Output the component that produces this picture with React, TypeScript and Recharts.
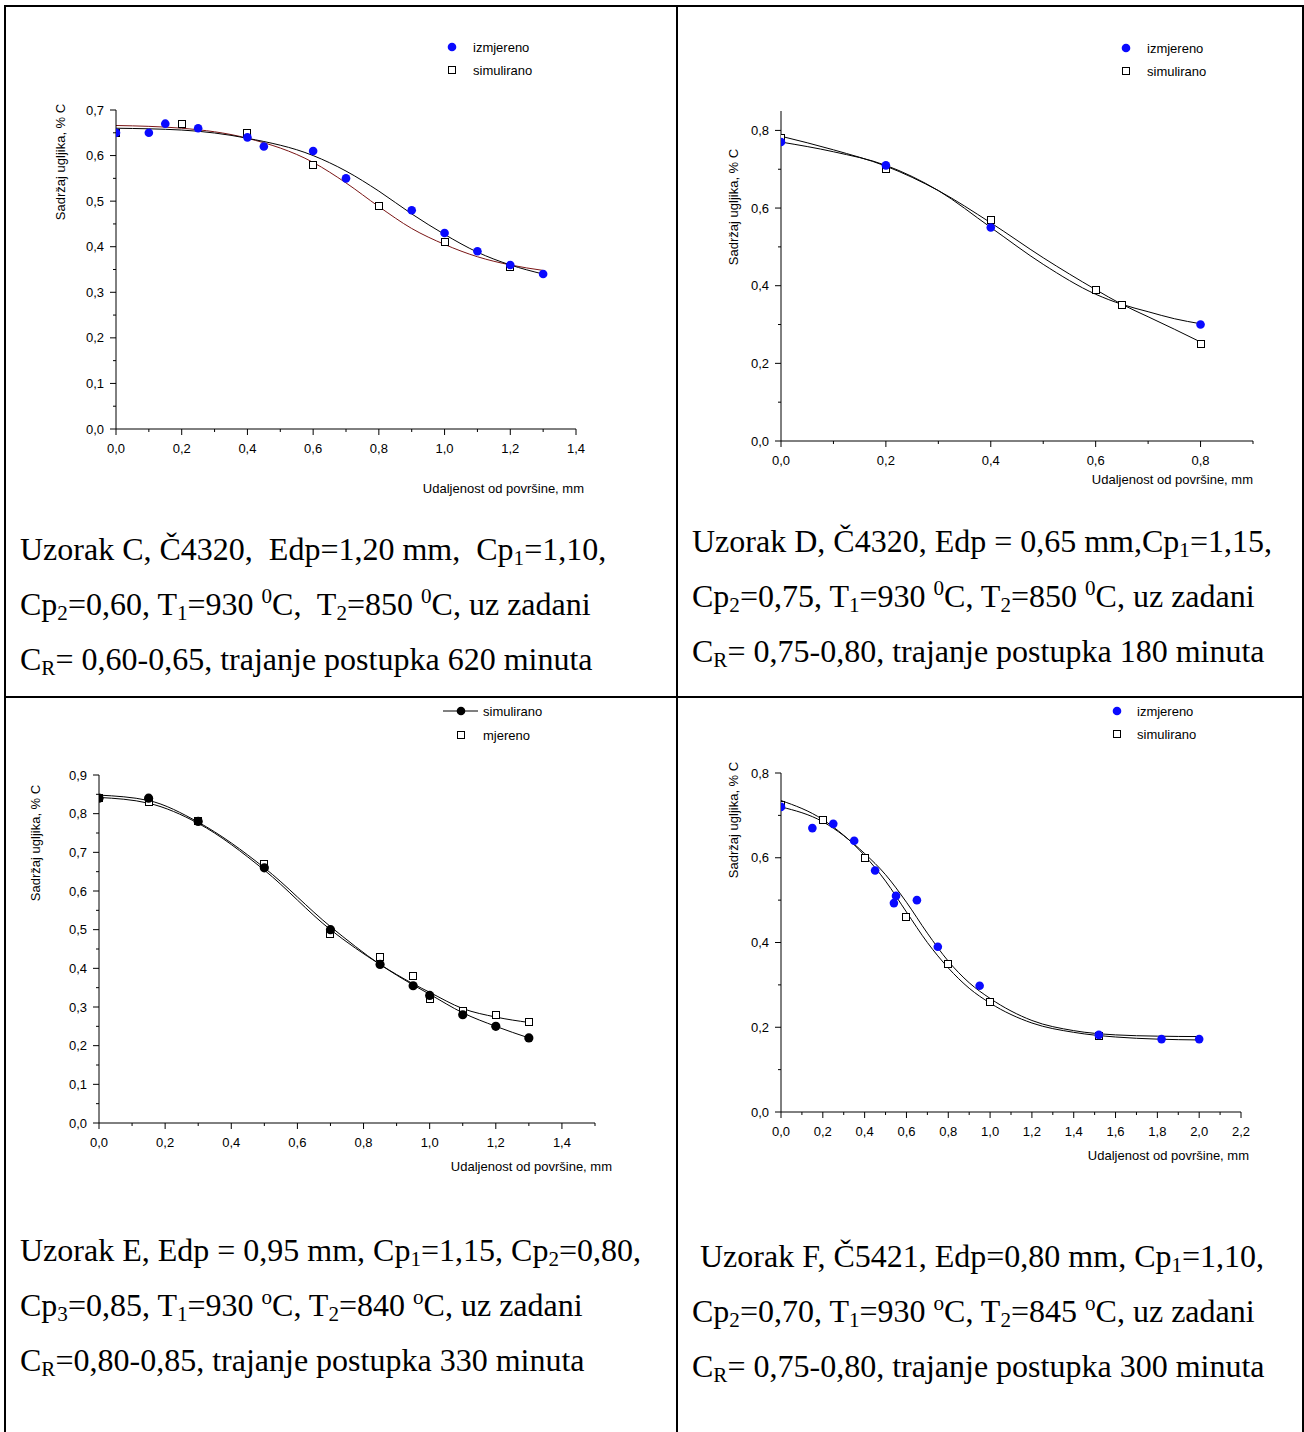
import React from 'react'
import { ComposedChart, Line, Scatter, XAxis, YAxis, Legend, Label } from 'recharts'

type Pt = { x: number; y: number }
type Kind = 'blue' | 'square' | 'black' | 'lineDot'

const BLUE = '#0a0aff'
const MAROON = '#7a1515'
const SANS = '"Liberation Sans", Arial, sans-serif'
const SERIF = '"Liberation Serif", "Times New Roman", serif'
const FS = 13

// Uzorak C
const cXTicks = [0, 0.1, 0.2, 0.3, 0.4, 0.5, 0.6, 0.7, 0.8, 0.9, 1.0, 1.1, 1.2, 1.3, 1.4]
const cXMajor = [0, 0.2, 0.4, 0.6, 0.8, 1.0, 1.2, 1.4]
const cYTicks = [0, 0.05, 0.1, 0.15, 0.2, 0.25, 0.3, 0.35, 0.4, 0.45, 0.5, 0.55, 0.6, 0.65, 0.7]
const cYMajor = [0, 0.1, 0.2, 0.3, 0.4, 0.5, 0.6, 0.7]
const cMeasured: Pt[] = [
  { x: 0, y: 0.65 }, { x: 0.1, y: 0.65 }, { x: 0.15, y: 0.67 }, { x: 0.25, y: 0.66 },
  { x: 0.4, y: 0.64 }, { x: 0.45, y: 0.62 }, { x: 0.6, y: 0.61 }, { x: 0.7, y: 0.55 },
  { x: 0.9, y: 0.48 }, { x: 1.0, y: 0.43 }, { x: 1.1, y: 0.39 }, { x: 1.2, y: 0.36 }, { x: 1.3, y: 0.34 },
]
const cSimulated: Pt[] = [
  { x: 0, y: 0.65 }, { x: 0.2, y: 0.67 }, { x: 0.4, y: 0.65 }, { x: 0.6, y: 0.58 },
  { x: 0.8, y: 0.49 }, { x: 1.0, y: 0.41 }, { x: 1.2, y: 0.355 },
]
const cMeasuredFit: Pt[] = [
  { x: 0, y: 0.66 }, { x: 0.2, y: 0.656 }, { x: 0.4, y: 0.638 }, { x: 0.6, y: 0.6 },
  { x: 0.7, y: 0.566 }, { x: 0.8, y: 0.522 }, { x: 0.9, y: 0.472 }, { x: 1.0, y: 0.427 },
  { x: 1.1, y: 0.388 }, { x: 1.2, y: 0.36 }, { x: 1.3, y: 0.34 },
]
const cSimulatedFit: Pt[] = [
  { x: 0, y: 0.666 }, { x: 0.2, y: 0.66 }, { x: 0.4, y: 0.638 }, { x: 0.6, y: 0.585 },
  { x: 0.7, y: 0.54 }, { x: 0.8, y: 0.488 }, { x: 0.9, y: 0.44 }, { x: 1.0, y: 0.405 },
  { x: 1.1, y: 0.378 }, { x: 1.2, y: 0.36 }, { x: 1.3, y: 0.348 },
]

// Uzorak D
const dXTicks = [0, 0.1, 0.2, 0.3, 0.4, 0.5, 0.6, 0.7, 0.8, 0.9]
const dXMajor = [0, 0.2, 0.4, 0.6, 0.8]
const dYTicks = [0, 0.1, 0.2, 0.3, 0.4, 0.5, 0.6, 0.7, 0.8]
const dYMajor = [0, 0.2, 0.4, 0.6, 0.8]
const dMeasured: Pt[] = [{ x: 0, y: 0.77 }, { x: 0.2, y: 0.71 }, { x: 0.4, y: 0.55 }, { x: 0.8, y: 0.3 }]
const dSimulated: Pt[] = [
  { x: 0, y: 0.78 }, { x: 0.2, y: 0.7 }, { x: 0.4, y: 0.57 }, { x: 0.6, y: 0.39 },
  { x: 0.65, y: 0.35 }, { x: 0.8, y: 0.25 },
]
const dMeasuredFit: Pt[] = [
  { x: 0, y: 0.77 }, { x: 0.1, y: 0.745 }, { x: 0.2, y: 0.71 }, { x: 0.3, y: 0.645 },
  { x: 0.4, y: 0.55 }, { x: 0.5, y: 0.455 }, { x: 0.6, y: 0.378 }, { x: 0.65, y: 0.352 },
  { x: 0.7, y: 0.333 }, { x: 0.75, y: 0.315 }, { x: 0.8, y: 0.302 },
]
const dSimulatedFit: Pt[] = [
  { x: 0, y: 0.785 }, { x: 0.1, y: 0.75 }, { x: 0.2, y: 0.708 }, { x: 0.3, y: 0.645 },
  { x: 0.4, y: 0.562 }, { x: 0.5, y: 0.472 }, { x: 0.6, y: 0.39 }, { x: 0.65, y: 0.352 },
  { x: 0.7, y: 0.32 }, { x: 0.75, y: 0.288 }, { x: 0.8, y: 0.255 },
]

// Uzorak E
const eXTicks = [0, 0.1, 0.2, 0.3, 0.4, 0.5, 0.6, 0.7, 0.8, 0.9, 1.0, 1.1, 1.2, 1.3, 1.4, 1.5]
const eXMajor = [0, 0.2, 0.4, 0.6, 0.8, 1.0, 1.2, 1.4]
const eYTicks = [0, 0.05, 0.1, 0.15, 0.2, 0.25, 0.3, 0.35, 0.4, 0.45, 0.5, 0.55, 0.6, 0.65, 0.7, 0.75, 0.8, 0.85, 0.9]
const eYMajor = [0, 0.1, 0.2, 0.3, 0.4, 0.5, 0.6, 0.7, 0.8, 0.9]
const eSimulated: Pt[] = [
  { x: 0, y: 0.84 }, { x: 0.15, y: 0.84 }, { x: 0.3, y: 0.78 }, { x: 0.5, y: 0.66 },
  { x: 0.7, y: 0.5 }, { x: 0.85, y: 0.41 }, { x: 0.95, y: 0.355 }, { x: 1.0, y: 0.33 },
  { x: 1.1, y: 0.28 }, { x: 1.2, y: 0.25 }, { x: 1.3, y: 0.22 },
]
const eMeasured: Pt[] = [
  { x: 0, y: 0.84 }, { x: 0.15, y: 0.83 }, { x: 0.3, y: 0.78 }, { x: 0.5, y: 0.67 },
  { x: 0.7, y: 0.49 }, { x: 0.85, y: 0.43 }, { x: 0.95, y: 0.38 }, { x: 1.0, y: 0.32 },
  { x: 1.1, y: 0.29 }, { x: 1.2, y: 0.28 }, { x: 1.3, y: 0.26 },
]
const eSimulatedFit: Pt[] = [
  { x: 0, y: 0.848 }, { x: 0.15, y: 0.834 }, { x: 0.3, y: 0.778 }, { x: 0.5, y: 0.66 },
  { x: 0.7, y: 0.508 }, { x: 0.85, y: 0.41 }, { x: 0.95, y: 0.357 }, { x: 1.0, y: 0.333 },
  { x: 1.1, y: 0.285 }, { x: 1.2, y: 0.25 }, { x: 1.3, y: 0.22 },
]
const eMeasuredFit: Pt[] = [
  { x: 0, y: 0.842 }, { x: 0.15, y: 0.827 }, { x: 0.3, y: 0.775 }, { x: 0.5, y: 0.654 },
  { x: 0.7, y: 0.5 }, { x: 0.85, y: 0.41 }, { x: 0.95, y: 0.36 }, { x: 1.0, y: 0.338 },
  { x: 1.1, y: 0.296 }, { x: 1.2, y: 0.274 }, { x: 1.3, y: 0.26 },
]

// Uzorak F
const fXTicks = [0, 0.1, 0.2, 0.3, 0.4, 0.5, 0.6, 0.7, 0.8, 0.9, 1.0, 1.1, 1.2, 1.3, 1.4, 1.5, 1.6, 1.7, 1.8, 1.9, 2.0, 2.1, 2.2]
const fXMajor = [0, 0.2, 0.4, 0.6, 0.8, 1.0, 1.2, 1.4, 1.6, 1.8, 2.0, 2.2]
const fYTicks = [0, 0.1, 0.2, 0.3, 0.4, 0.5, 0.6, 0.7, 0.8]
const fYMajor = [0, 0.2, 0.4, 0.6, 0.8]
const fMeasured: Pt[] = [
  { x: 0, y: 0.72 }, { x: 0.15, y: 0.67 }, { x: 0.25, y: 0.68 }, { x: 0.35, y: 0.64 },
  { x: 0.45, y: 0.57 }, { x: 0.54, y: 0.493 }, { x: 0.55, y: 0.51 }, { x: 0.65, y: 0.5 },
  { x: 0.75, y: 0.39 }, { x: 0.95, y: 0.298 }, { x: 1.52, y: 0.182 }, { x: 1.82, y: 0.172 }, { x: 2.0, y: 0.172 },
]
const fSimulated: Pt[] = [
  { x: 0, y: 0.725 }, { x: 0.2, y: 0.69 }, { x: 0.4, y: 0.6 }, { x: 0.6, y: 0.46 },
  { x: 0.8, y: 0.35 }, { x: 1.0, y: 0.26 }, { x: 1.52, y: 0.18 },
]
const fMeasuredFit: Pt[] = [
  { x: 0, y: 0.72 }, { x: 0.2, y: 0.685 }, { x: 0.4, y: 0.61 }, { x: 0.5, y: 0.56 },
  { x: 0.6, y: 0.495 }, { x: 0.7, y: 0.422 }, { x: 0.8, y: 0.356 }, { x: 0.9, y: 0.305 },
  { x: 1.0, y: 0.268 }, { x: 1.2, y: 0.216 }, { x: 1.4, y: 0.192 }, { x: 1.6, y: 0.182 },
  { x: 1.8, y: 0.179 }, { x: 2.0, y: 0.178 },
]
const fSimulatedFit: Pt[] = [
  { x: 0, y: 0.735 }, { x: 0.2, y: 0.69 }, { x: 0.4, y: 0.605 }, { x: 0.5, y: 0.545 },
  { x: 0.6, y: 0.472 }, { x: 0.7, y: 0.4 }, { x: 0.8, y: 0.34 }, { x: 0.9, y: 0.292 },
  { x: 1.0, y: 0.257 }, { x: 1.2, y: 0.21 }, { x: 1.4, y: 0.188 }, { x: 1.6, y: 0.177 },
  { x: 1.8, y: 0.172 }, { x: 2.0, y: 0.17 },
]

const fmt = (v: number) => v.toFixed(1).replace('.', ',')
const isMajor = (list: number[], v: number) => list.some((m) => Math.abs(m - v) < 1e-6)

function Marker({ kind, cx, cy }: { kind: Kind; cx: number; cy: number }) {
  if (kind === 'blue') return <circle cx={cx} cy={cy} r={4.3} fill={BLUE} />
  if (kind === 'black') return <circle cx={cx} cy={cy} r={4.6} fill="#000" />
  if (kind === 'lineDot')
    return (
      <g>
        <line x1={cx - 18} y1={cy} x2={cx + 17} y2={cy} stroke="#000" />
        <circle cx={cx} cy={cy} r={4.3} fill="#000" />
      </g>
    )
  const x = Math.round(cx) - 3.5
  const y = Math.round(cy) - 3.5
  return <rect x={x} y={y} width={7} height={7} fill="#fff" stroke="#000" strokeWidth={1} />
}

const xTick = (majors: number[]) => (p: any) => {
  const v = p.payload.value
  const major = isMajor(majors, v)
  return (
    <g>
      <line x1={p.x} y1={p.y} x2={p.x} y2={p.y + (major ? 6 : 3)} stroke="#000" />
      {major && (
        <text x={p.x} y={p.y + 24} textAnchor="middle" fontSize={FS} fontFamily={SANS} fill="#000">
          {fmt(v)}
        </text>
      )}
    </g>
  )
}

const yTick = (majors: number[]) => (p: any) => {
  const v = p.payload.value
  const major = isMajor(majors, v)
  return (
    <g>
      <line x1={p.x - (major ? 6 : 3)} y1={p.y} x2={p.x} y2={p.y} stroke="#000" />
      {major && (
        <text x={p.x - 12} y={p.y + 4.5} textAnchor="end" fontSize={FS} fontFamily={SANS} fill="#000">
          {fmt(v)}
        </text>
      )}
    </g>
  )
}

type LegendItem = { kind: Kind; label: string; x: number; y: number; textX: number }

type PanelProps = {
  left: number
  top: number
  width: number
  height: number
  yw: number
  mr: number
  mt: number
  xh: number
  xDomain: [number, number]
  xTicks: number[]
  xMajor: number[]
  yDomain: [number, number]
  yTicks: number[]
  yMajor: number[]
  curves: { data: Pt[]; color: string }[]
  marks: { data: Pt[]; kind: Kind }[]
  legend: LegendItem[]
  xTitle: [number, number]
  yTitle: [number, number]
}

function Panel(p: PanelProps) {
  return (
    <div style={{ position: 'absolute', left: p.left, top: p.top }}>
      <ComposedChart
        width={p.width}
        height={p.height}
        margin={{ top: p.mt, right: p.mr, left: 0, bottom: 0 }}
      >
        <XAxis
          type="number"
          dataKey="x"
          domain={p.xDomain}
          ticks={p.xTicks}
          interval={0}
          height={p.xh}
          tickSize={0}
          tickMargin={0}
          tickLine={false}
          axisLine={{ stroke: '#000' }}
          tick={xTick(p.xMajor)}
          allowDataOverflow
        >
          <Label
            content={() => (
              <text x={p.xTitle[0]} y={p.xTitle[1] + 4.5} textAnchor="end" fontSize={FS} fontFamily={SANS} fill="#000">
                Udaljenost od površine, mm
              </text>
            )}
          />
        </XAxis>
        <YAxis
          type="number"
          dataKey="y"
          domain={p.yDomain}
          ticks={p.yTicks}
          interval={0}
          width={p.yw}
          tickSize={0}
          tickMargin={0}
          tickLine={false}
          axisLine={{ stroke: '#000' }}
          tick={yTick(p.yMajor)}
          allowDataOverflow
        >
          <Label
            content={() => (
              <text
                x={p.yTitle[0]}
                y={p.yTitle[1]}
                transform={`rotate(-90 ${p.yTitle[0]} ${p.yTitle[1]})`}
                textAnchor="middle"
                dominantBaseline="central"
                fontSize={FS}
                fontFamily={SANS}
                fill="#000"
              >
                Sadržaj ugljika, % C
              </text>
            )}
          />
        </YAxis>
        <Legend
          layout="vertical"
          align="center"
          verticalAlign="middle"
          wrapperStyle={{ top: 0, left: 0, width: p.width, height: 50 }}
          content={() => (
            <svg width={p.width} height={50} style={{ display: 'block' }}>
              {p.legend.map((it) => (
                <g key={it.label}>
                  <Marker kind={it.kind} cx={it.x} cy={it.y} />
                  <text x={it.textX} y={it.y + 4.5} fontSize={FS} fontFamily={SANS} fill="#000">
                    {it.label}
                  </text>
                </g>
              ))}
            </svg>
          )}
        />
        {p.curves.map((c, i) => (
          <Line
            key={'c' + i}
            data={c.data}
            dataKey="y"
            type="monotone"
            stroke={c.color}
            strokeWidth={1}
            dot={false}
            activeDot={false}
            isAnimationActive={false}
          />
        ))}
        {p.marks.map((m, i) => (
          <Scatter
            key={'m' + i}
            data={m.data}
            dataKey="y"
            isAnimationActive={false}
            shape={(s: any) => <Marker kind={m.kind} cx={s.cx} cy={s.cy} />}
          />
        ))}
      </ComposedChart>
    </div>
  )
}

const sub = (t: string) => (
  <sub style={{ fontSize: '0.66em', lineHeight: 0, verticalAlign: '-0.25em' }}>{t}</sub>
)
const sup = (t: string) => (
  <sup style={{ fontSize: '0.66em', lineHeight: 0, verticalAlign: '0.55em' }}>{t}</sup>
)

const captionStyle: React.CSSProperties = {
  position: 'absolute',
  fontFamily: SERIF,
  fontSize: 32,
  lineHeight: '55px',
  whiteSpace: 'pre',
  color: '#000',
}

const rule = (left: number, top: number, width: number, height: number) => (
  <div style={{ position: 'absolute', left, top, width, height, background: '#000' }} />
)

export default function App() {
  return (
    <div style={{ position: 'absolute', left: 0, top: 0, width: 1304, height: 1432, background: '#fff', overflow: 'hidden' }}>
      {rule(4, 5, 1300, 2)}
      {rule(4, 5, 2, 1427)}
      {rule(676, 5, 2, 1427)}
      {rule(1302, 5, 2, 1427)}
      {rule(4, 696, 1300, 2)}

      <Panel
        left={40} top={30} width={560} height={470}
        yw={76} mr={24} mt={80} xh={71}
        xDomain={[0, 1.4]} xTicks={cXTicks} xMajor={cXMajor}
        yDomain={[0, 0.7]} yTicks={cYTicks} yMajor={cYMajor}
        curves={[{ data: cSimulatedFit, color: MAROON }, { data: cMeasuredFit, color: '#000' }]}
        marks={[{ data: cSimulated, kind: 'square' }, { data: cMeasured, kind: 'blue' }]}
        legend={[
          { kind: 'blue', label: 'izmjereno', x: 412, y: 17, textX: 433 },
          { kind: 'square', label: 'simulirano', x: 412, y: 40, textX: 433 },
        ]}
        xTitle={[544, 458]}
        yTitle={[20, 132]}
      />

      <Panel
        left={700} top={30} width={570} height={470}
        yw={81} mr={17} mt={81} xh={59}
        xDomain={[0, 0.9]} xTicks={dXTicks} xMajor={dXMajor}
        yDomain={[0, 0.85]} yTicks={dYTicks} yMajor={dYMajor}
        curves={[{ data: dMeasuredFit, color: '#000' }, { data: dSimulatedFit, color: '#000' }]}
        marks={[{ data: dSimulated, kind: 'square' }, { data: dMeasured, kind: 'blue' }]}
        legend={[
          { kind: 'blue', label: 'izmjereno', x: 426, y: 18, textX: 447 },
          { kind: 'square', label: 'simulirano', x: 426, y: 41, textX: 447 },
        ]}
        xTitle={[553, 449]}
        yTitle={[33, 177]}
      />

      <Panel
        left={20} top={700} width={600} height={480}
        yw={79} mr={25} mt={75} xh={57}
        xDomain={[0, 1.5]} xTicks={eXTicks} xMajor={eXMajor}
        yDomain={[0, 0.9]} yTicks={eYTicks} yMajor={eYMajor}
        curves={[{ data: eMeasuredFit, color: '#000' }, { data: eSimulatedFit, color: '#000' }]}
        marks={[{ data: eMeasured, kind: 'square' }, { data: eSimulated, kind: 'black' }]}
        legend={[
          { kind: 'lineDot', label: 'simulirano', x: 441, y: 11, textX: 463 },
          { kind: 'square', label: 'mjereno', x: 441, y: 35, textX: 463 },
        ]}
        xTitle={[592, 466]}
        yTitle={[15, 143]}
      />

      <Panel
        left={700} top={700} width={560} height={470}
        yw={81} mr={19} mt={73} xh={58}
        xDomain={[0, 2.2]} xTicks={fXTicks} xMajor={fXMajor}
        yDomain={[0, 0.8]} yTicks={fYTicks} yMajor={fYMajor}
        curves={[{ data: fMeasuredFit, color: '#000' }, { data: fSimulatedFit, color: '#000' }]}
        marks={[{ data: fSimulated, kind: 'square' }, { data: fMeasured, kind: 'blue' }]}
        legend={[
          { kind: 'blue', label: 'izmjereno', x: 417, y: 11, textX: 437 },
          { kind: 'square', label: 'simulirano', x: 417, y: 34, textX: 437 },
        ]}
        xTitle={[549, 455]}
        yTitle={[33, 120]}
      />

      <div style={{ ...captionStyle, left: 20, top: 522 }}>
        <div>Uzorak C, Č4320,  Edp=1,20 mm,  Cp{sub('1')}=1,10,</div>
        <div>Cp{sub('2')}=0,60, T{sub('1')}=930 {sup('0')}C,  T{sub('2')}=850 {sup('0')}C, uz zadani</div>
        <div>C{sub('R')}= 0,60-0,65, trajanje postupka 620 minuta</div>
      </div>
      <div style={{ ...captionStyle, left: 692, top: 514 }}>
        <div>Uzorak D, Č4320, Edp = 0,65 mm,Cp{sub('1')}=1,15,</div>
        <div>Cp{sub('2')}=0,75, T{sub('1')}=930 {sup('0')}C, T{sub('2')}=850 {sup('0')}C, uz zadani</div>
        <div>C{sub('R')}= 0,75-0,80, trajanje postupka 180 minuta</div>
      </div>
      <div style={{ ...captionStyle, left: 20, top: 1223 }}>
        <div>Uzorak E, Edp = 0,95 mm, Cp{sub('1')}=1,15, Cp{sub('2')}=0,80,</div>
        <div>Cp{sub('3')}=0,85, T{sub('1')}=930 {sup('o')}C, T{sub('2')}=840 {sup('o')}C, uz zadani</div>
        <div>C{sub('R')}=0,80-0,85, trajanje postupka 330 minuta</div>
      </div>
      <div style={{ ...captionStyle, left: 692, top: 1229 }}>
        <div> Uzorak F, Č5421, Edp=0,80 mm, Cp{sub('1')}=1,10,</div>
        <div>Cp{sub('2')}=0,70, T{sub('1')}=930 {sup('o')}C, T{sub('2')}=845 {sup('o')}C, uz zadani</div>
        <div>C{sub('R')}= 0,75-0,80, trajanje postupka 300 minuta</div>
      </div>
    </div>
  )
}
